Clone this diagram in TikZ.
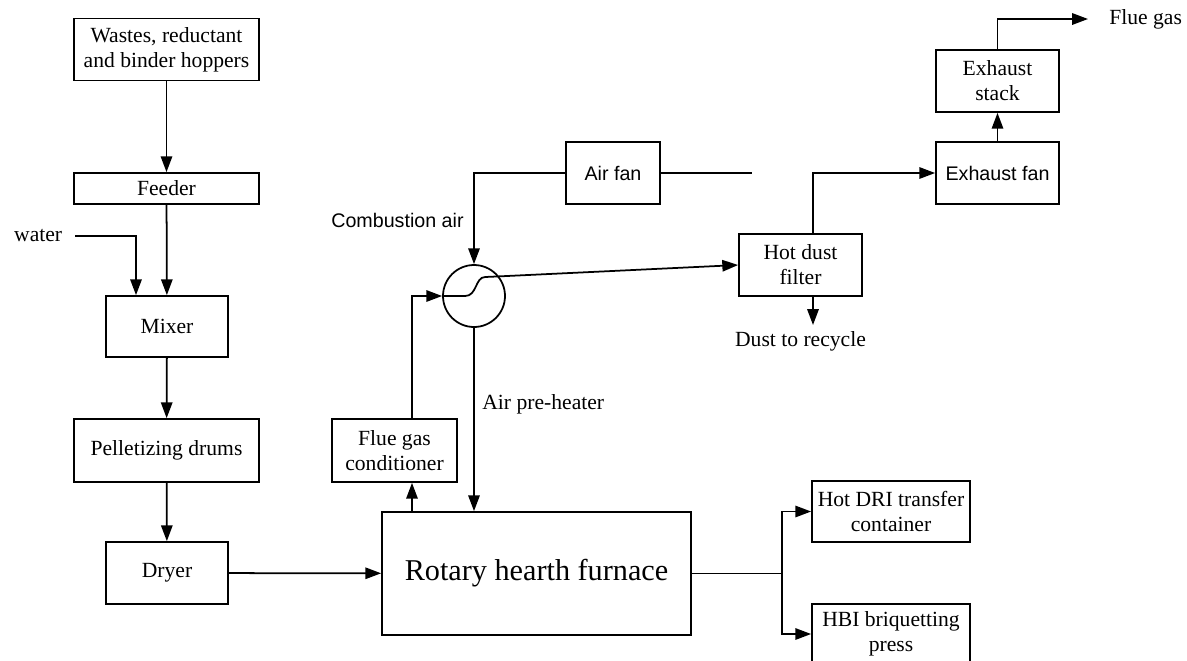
\documentclass[tikz,border=0pt]{standalone}
\usepackage{fontspec}
\setmainfont{Liberation Serif}
\setsansfont{Liberation Sans}
\usepackage{tikz}
\usetikzlibrary{arrows.meta, positioning}

\begin{document}
\begin{tikzpicture}[x=0.02cm, y=-0.02cm,
    unit/.style={draw, line width=1pt, inner sep=1pt, align=center,
      font=\fontsize{12.3}{14.2}\selectfont},
    sfunit/.style={unit, font=\sffamily\fontsize{11.2}{13.5}\selectfont},
    lbl/.style={inner sep=0pt, font=\fontsize{12.3}{14.2}\selectfont},
    flow/.style={line width=1pt, -{Triangle[length=9pt, width=6.5pt]}},
    pipe/.style={line width=1pt}]
  \clip (0,0) rectangle (1187,660);

  % feed preparation
  \node[unit, minimum width=3.7cm, minimum height=1.24cm] (hopper) at (166.5,49.5) {Wastes, reductant\\and binder hoppers};
  \node[unit, minimum width=3.7cm, minimum height=0.62cm] (feeder) at (166.5,188.5) {Feeder};
  \node[unit, minimum width=2.44cm, minimum height=1.22cm] (mixer) at (167,326.5) {Mixer};
  \node[unit, minimum width=3.7cm, minimum height=1.26cm] (pellet) at (166.5,450.5) {Pelletizing drums};
  \node[unit, minimum width=2.44cm, minimum height=1.24cm] (dryer) at (167,573) {Dryer};
  \node[lbl, inner xsep=0.25cm, anchor=east] (water) at (75,236) {water};

  % furnace and gas line
  \node[unit, minimum width=6.18cm, minimum height=2.46cm, font=\fontsize{17.2}{20}\selectfont] (rhf) at (536.5,573.5) {Rotary hearth furnace};
  \node[unit, minimum width=2.5cm, minimum height=1.26cm] (fgc) at (394.5,450.5) {Flue gas\\conditioner};
  \node[draw, circle, line width=1pt, minimum size=1.24cm, inner sep=0pt] (hx) at (474,296) {};
  \node[sfunit, minimum width=1.88cm, minimum height=1.24cm] (airfan) at (613,173) {Air fan};
  \coordinate (fanend) at (752,173);
  \node[lbl, font=\sffamily\fontsize{11.2}{13.5}\selectfont, anchor=east] (combair) at (464,220) {Combustion air};
  \node[lbl, anchor=west] (preheat) at (482,404) {Air pre-heater};
  \node[unit, minimum width=2.46cm, minimum height=1.24cm] (filter) at (800.5,265) {Hot dust\\filter};
  \node[lbl, inner sep=0.12cm, anchor=north] (dust) at (800.5,325) {Dust to recycle};
  \node[sfunit, minimum width=2.46cm, minimum height=1.24cm] (exfan) at (997.5,173) {Exhaust fan};
  \node[unit, minimum width=2.46cm, minimum height=1.24cm] (stack) at (997.5,81) {Exhaust\\stack};
  \node[lbl, inner xsep=0.42cm, anchor=west] (flue) at (1088,19) {Flue gas};

  % products
  \coordinate (split) at (782,573.5);
  \node[unit, minimum width=3.16cm, minimum height=1.22cm] (dri) at (891,511.5) {Hot DRI transfer\\container};
  \node[unit, minimum width=3.16cm, minimum height=1.2cm] (hbi) at (891,634) {HBI briquetting\\press};

  % solids flow
  \draw[flow] (hopper) -- (feeder);
  \draw[flow] (feeder) -- (mixer);
  \draw[flow] (water.east) -| ([xshift=-0.62cm]mixer.north);
  \draw[flow] (mixer) -- (pellet);
  \draw[flow] (pellet) -- (dryer);
  \draw[flow] (dryer) -- (rhf);
  \draw[pipe] (rhf.east) -- (split);
  \draw[flow] (split) |- (dri.west);
  \draw[flow] (split) |- (hbi.west);

  % gas flow
  \draw[flow] ([xshift=0.35cm]fgc.south |- rhf.north) -- ([xshift=0.35cm]fgc.south);
  \draw[flow] ([xshift=0.35cm]fgc.north) |- (hx.west);
  \draw[pipe] (hx.west) -- ++(23,0) .. controls +(12,0) and +(-10,0) .. ++(20,-19) -- (hx.38);
  \draw[flow] (airfan.west) -| (hx.north);
  \draw[pipe] (airfan.east) -- (fanend);
  \draw[flow] (hx.south) -- (hx.south |- rhf.north);
  \draw[flow] (hx.38) -- (filter.west);
  \draw[flow] ([xshift=0.25cm]filter.south) -- ([xshift=0.25cm]filter.south |- dust.north);
  \draw[flow] ([xshift=0.25cm]filter.north) |- (exfan.west);
  \draw[flow] (exfan) -- (stack);
  \draw[flow] (stack.north) |- (flue.west);
\end{tikzpicture}
\end{document}
